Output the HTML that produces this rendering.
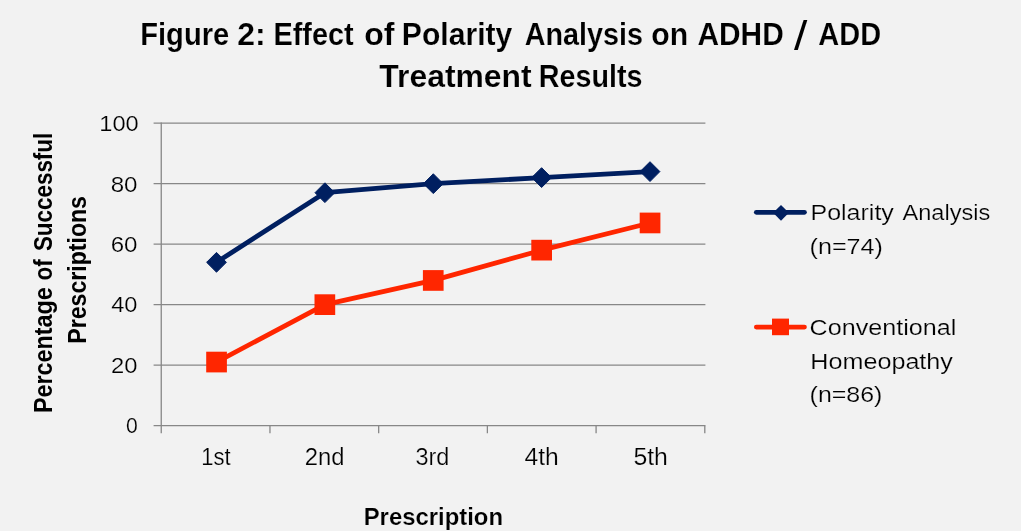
<!DOCTYPE html>
<html lang="en"><head><meta charset="utf-8"><title>Figure 2: Effect of Polarity Analysis on ADHD / ADD Treatment Results</title>
<style>html,body{margin:0;padding:0;background:#f2f2f2;}body{width:1021px;height:531px;overflow:hidden;}svg{display:block;}text{font-family:"Liberation Sans",Arial,sans-serif;fill:#000000;}</style></head><body>
<svg width="1021" height="531" viewBox="0 0 1021 531">
<rect width="1021" height="531" fill="#f2f2f2"/>
<g stroke="#878787" stroke-width="1.3" fill="none"><line x1="153.6" y1="365.08" x2="705.4" y2="365.08"/><line x1="153.6" y1="304.61" x2="705.4" y2="304.61"/><line x1="153.6" y1="244.14" x2="705.4" y2="244.14"/><line x1="153.6" y1="183.67" x2="705.4" y2="183.67"/><line x1="153.6" y1="123.20" x2="705.4" y2="123.20"/><line x1="153.6" y1="425.55" x2="705.4" y2="425.55"/><line x1="161.25" y1="122.55" x2="161.25" y2="433.25"/><line x1="269.96" y1="425.55" x2="269.96" y2="433.25"/><line x1="378.67" y1="425.55" x2="378.67" y2="433.25"/><line x1="487.38" y1="425.55" x2="487.38" y2="433.25"/><line x1="596.09" y1="425.55" x2="596.09" y2="433.25"/><line x1="704.80" y1="425.55" x2="704.80" y2="433.25"/></g>
<polyline points="216.5,262.3 324.9,192.7 433.3,183.7 541.6,177.6 650.0,171.6" fill="none" stroke="#001f60" stroke-width="4.8" stroke-linejoin="round" stroke-linecap="round"/>
<path d="M206.6 262.3L216.5 252.4L226.4 262.3L216.5 272.2Z" fill="#001f60" stroke="#001f60" stroke-width="1" stroke-linejoin="round"/>
<path d="M315.0 192.7L324.9 182.8L334.8 192.7L324.9 202.6Z" fill="#001f60" stroke="#001f60" stroke-width="1" stroke-linejoin="round"/>
<path d="M423.4 183.7L433.3 173.8L443.2 183.7L433.3 193.6Z" fill="#001f60" stroke="#001f60" stroke-width="1" stroke-linejoin="round"/>
<path d="M531.7 177.6L541.6 167.7L551.5 177.6L541.6 187.5Z" fill="#001f60" stroke="#001f60" stroke-width="1" stroke-linejoin="round"/>
<path d="M640.1 171.6L650.0 161.7L659.9 171.6L650.0 181.5Z" fill="#001f60" stroke="#001f60" stroke-width="1" stroke-linejoin="round"/>
<polyline points="216.5,362.1 324.9,304.6 433.3,280.4 541.6,250.2 650.0,223.0" fill="none" stroke="#ff2600" stroke-width="4.8" stroke-linejoin="round" stroke-linecap="round"/>
<rect x="206.2" y="351.7" width="20.7" height="20.7" fill="#ff2600"/>
<rect x="314.5" y="294.3" width="20.7" height="20.7" fill="#ff2600"/>
<rect x="422.9" y="270.1" width="20.7" height="20.7" fill="#ff2600"/>
<rect x="531.3" y="239.8" width="20.7" height="20.7" fill="#ff2600"/>
<rect x="639.7" y="212.6" width="20.7" height="20.7" fill="#ff2600"/>
<line x1="756.3" y1="212.3" x2="804.5" y2="212.3" stroke="#001f60" stroke-width="4.7" stroke-linecap="round"/>
<path d="M773.1 212.8L781 204.9L788.9 212.8L781 220.7Z" fill="#001f60"/>
<line x1="756.3" y1="327.1" x2="804.5" y2="327.1" stroke="#ff2600" stroke-width="4.7" stroke-linecap="round"/>
<rect x="772.0" y="318.6" width="17.0" height="16.6" fill="#ff2600"/>
<text font-size="31.2" font-weight="bold" stroke="#f2f2f2" stroke-width="0.15"><tspan x="140.23" y="45.3" textLength="88.99" lengthAdjust="spacingAndGlyphs">Figure</tspan> <tspan x="237.28" y="45.3" textLength="28.36" lengthAdjust="spacingAndGlyphs">2:</tspan> <tspan x="273.45" y="45.3" textLength="80.21" lengthAdjust="spacingAndGlyphs">Effect</tspan> <tspan x="364.17" y="45.3" textLength="30.20" lengthAdjust="spacingAndGlyphs">of</tspan> <tspan x="401.87" y="45.3" textLength="110.40" lengthAdjust="spacingAndGlyphs">Polarity</tspan> <tspan x="524.70" y="45.3" textLength="118.22" lengthAdjust="spacingAndGlyphs">Analysis</tspan> <tspan x="651.23" y="45.3" textLength="36.89" lengthAdjust="spacingAndGlyphs">on</tspan> <tspan x="697.50" y="45.3" textLength="86.20" lengthAdjust="spacingAndGlyphs">ADHD</tspan> <tspan x="794.00" y="49.6" font-size="40.5" font-weight="normal" stroke="none" textLength="13.32" lengthAdjust="spacingAndGlyphs">/</tspan> <tspan x="818.30" y="45.3" textLength="62.79" lengthAdjust="spacingAndGlyphs">ADD</tspan></text>
<text font-size="31.2" font-weight="bold" stroke="#f2f2f2" stroke-width="0.15"><tspan x="379.30" y="87.4" textLength="152.39" lengthAdjust="spacingAndGlyphs">Treatment</tspan> <tspan x="538.86" y="87.4" textLength="103.66" lengthAdjust="spacingAndGlyphs">Results</tspan></text>
<text font-size="22.9" stroke="#f2f2f2" stroke-width="0.2"><tspan x="99.37" y="131.3" textLength="39.38" lengthAdjust="spacingAndGlyphs">100</tspan></text>
<text font-size="22.9" stroke="#f2f2f2" stroke-width="0.2"><tspan x="110.65" y="191.6" textLength="26.82" lengthAdjust="spacingAndGlyphs">80</tspan></text>
<text font-size="22.9" stroke="#f2f2f2" stroke-width="0.2"><tspan x="110.65" y="251.9" textLength="26.82" lengthAdjust="spacingAndGlyphs">60</tspan></text>
<text font-size="22.9" stroke="#f2f2f2" stroke-width="0.2"><tspan x="111.20" y="312.2" textLength="26.25" lengthAdjust="spacingAndGlyphs">40</tspan></text>
<text font-size="22.9" stroke="#f2f2f2" stroke-width="0.2"><tspan x="111.06" y="372.5" textLength="26.39" lengthAdjust="spacingAndGlyphs">20</tspan></text>
<text font-size="22.9" stroke="#f2f2f2" stroke-width="0.2"><tspan x="126.10" y="432.8" textLength="11.78" lengthAdjust="spacingAndGlyphs">0</tspan></text>
<text font-size="23.0" stroke="#f2f2f2" stroke-width="0.2"><tspan x="201.34" y="464.8" textLength="29.37" lengthAdjust="spacingAndGlyphs">1st</tspan></text>
<text font-size="23.0" stroke="#f2f2f2" stroke-width="0.2"><tspan x="304.66" y="464.8" textLength="39.76" lengthAdjust="spacingAndGlyphs">2nd</tspan></text>
<text font-size="23.0" stroke="#f2f2f2" stroke-width="0.2"><tspan x="415.50" y="464.8" textLength="33.91" lengthAdjust="spacingAndGlyphs">3rd</tspan></text>
<text font-size="23.0" stroke="#f2f2f2" stroke-width="0.2"><tspan x="524.50" y="464.8" textLength="34.25" lengthAdjust="spacingAndGlyphs">4th</tspan></text>
<text font-size="23.0" stroke="#f2f2f2" stroke-width="0.2"><tspan x="633.40" y="464.8" textLength="34.56" lengthAdjust="spacingAndGlyphs">5th</tspan></text>
<text font-size="23.4" font-weight="bold" stroke="#f2f2f2" stroke-width="0.15"><tspan x="363.68" y="524.5" textLength="139.34" lengthAdjust="spacingAndGlyphs">Prescription</tspan></text>
<text transform="translate(52.0,0) rotate(-90)" font-size="24.9" font-weight="bold"><tspan x="-413.04" y="0.0" textLength="125.83" lengthAdjust="spacingAndGlyphs">Percentage</tspan> <tspan x="-280.50" y="0.0" textLength="21.26" lengthAdjust="spacingAndGlyphs">of</tspan> <tspan x="-251.10" y="0.0" textLength="118.32" lengthAdjust="spacingAndGlyphs">Successful</tspan></text>
<text transform="translate(85.5,0) rotate(-90)" font-size="24.9" font-weight="bold"><tspan x="-343.73" y="0.0" textLength="147.71" lengthAdjust="spacingAndGlyphs">Prescriptions</tspan></text>
<text font-size="22.8" stroke="#f2f2f2" stroke-width="0.2"><tspan x="810.50" y="219.8" textLength="83.34" lengthAdjust="spacingAndGlyphs">Polarity</tspan> <tspan x="902.40" y="219.8" textLength="87.91" lengthAdjust="spacingAndGlyphs">Analysis</tspan></text>
<text font-size="22.8" stroke="#f2f2f2" stroke-width="0.2"><tspan x="809.60" y="253.9" textLength="73.35" lengthAdjust="spacingAndGlyphs">(n=74)</tspan></text>
<text font-size="22.8" stroke="#f2f2f2" stroke-width="0.2"><tspan x="809.60" y="334.9" textLength="146.68" lengthAdjust="spacingAndGlyphs">Conventional</tspan></text>
<text font-size="22.8" stroke="#f2f2f2" stroke-width="0.2"><tspan x="810.30" y="368.6" textLength="142.64" lengthAdjust="spacingAndGlyphs">Homeopathy</tspan></text>
<text font-size="22.8" stroke="#f2f2f2" stroke-width="0.2"><tspan x="809.61" y="402.0" textLength="72.84" lengthAdjust="spacingAndGlyphs">(n=86)</tspan></text>
</svg></body></html>
